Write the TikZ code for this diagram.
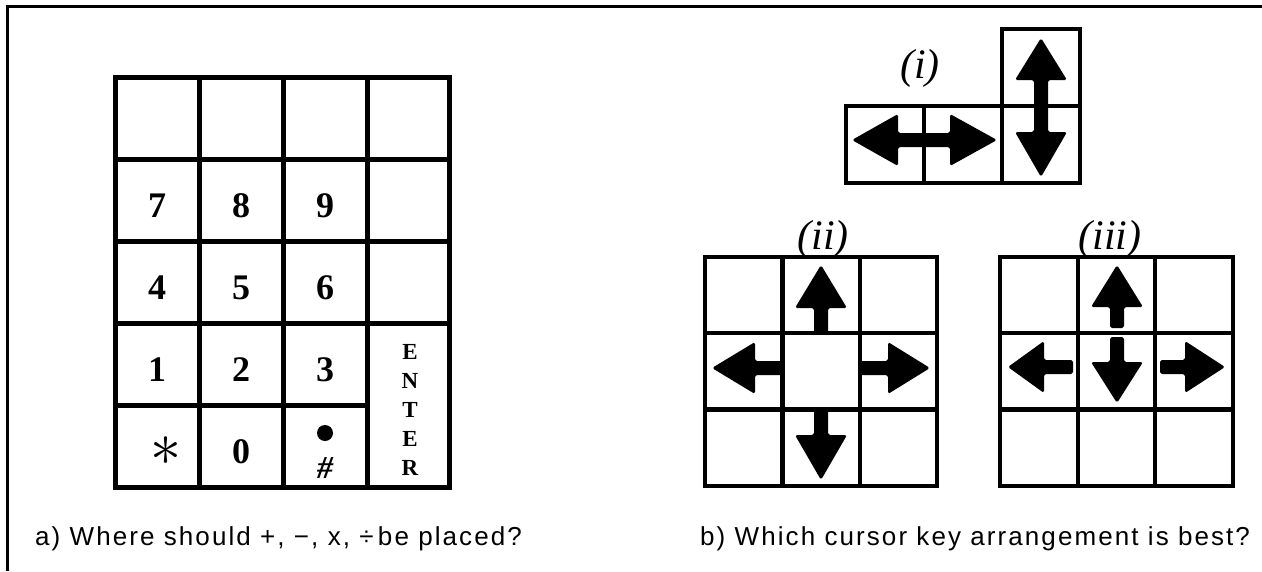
\documentclass[tikz,border=0pt]{standalone}
\usepackage{fontspec}
\setmainfont{Liberation Serif}
\setsansfont{Liberation Sans}[LetterSpace=8]
\begin{document}
\begin{tikzpicture}[x=1pt,y=-1pt,
  keycell/.style={draw,line width=5pt,minimum width=84pt,minimum height=82pt,inner sep=0pt},
  curcell/.style={draw,line width=4pt,minimum width=77.7pt,minimum height=76.7pt,inner sep=0pt},
  digit/.style={inner sep=0pt,font=\fontsize{36}{36}\bfseries\selectfont},
  setlabel/.style={inner sep=0pt,font=\fontsize{42}{42}\itshape\selectfont},
  caption/.style={inner sep=0pt,anchor=west,font=\fontsize{26}{30}\sffamily\selectfont},
  pics/keyarrow/.style 2 args={code={
    \fill[rounded corners=1.8pt] (0,0) -- (-#1,26) -- (-#1,7) -- (-#2,7)
      -- (-#2,-7) -- (-#1,-7) -- (-#1,-26) -- cycle;
  }}]
\useasboundingbox (0,0) rectangle (1262,571);
% frame
\draw[line width=3pt] (7,6.5) -- (1262,6.5);
\draw[line width=2.5pt] (7.5,5) -- (7.5,571);

% ---- keypad ----
\foreach \c/\x in {1/157,2/241,3/325}{
  \foreach \r/\y in {1/118,2/200,3/282,4/364,5/446}{
    \node[keycell] (k\r\c) at (\x,\y) {};
  }
}
\foreach \r/\y in {1/118,2/200,3/282}{
  \node[keycell,minimum width=82pt] (k\r4) at (408,\y) {};
}
\node[keycell,minimum width=82pt,minimum height=164pt] (kenter) at (408,405) {};

\node[digit] (d7) at (157,206) {7};
\node[digit] (d8) at (241,206) {8};
\node[digit] (d9) at (325,206) {9};
\node[digit] (d4) at (157,288) {4};
\node[digit] (d5) at (241,288) {5};
\node[digit] (d6) at (325,288) {6};
\node[digit] (d1) at (157,370) {1};
\node[digit] (d2) at (241,370) {2};
\node[digit] (d3) at (325,370) {3};
\node[digit] (d0) at (241,452) {0};
\node[inner sep=0pt] (dstar) at (166,451) {\scalebox{6.2}{$\ast$}};
\fill (325,433) circle (8);
\node[inner sep=0pt,font=\fontsize{32}{32}\bfseries\itshape\selectfont] (dhash) at (325,468) {\#};
\node[inner sep=0pt,align=center,font=\fontsize{23}{28.8}\bfseries\selectfont] (enter) at (410,410) {E\\N\\T\\E\\R};

% ---- cursor keys (i) ----
\node[curcell] (a1) at (885,144.3) {};
\node[curcell] (a2) at (963,144.3) {};
\node[curcell] (a3) at (1041,144.3) {};
\node[curcell] (a4) at (1041,67.6) {};
\pic[rotate=180] at (852,140) {keyarrow={46}{72}};
\pic at (997,140) {keyarrow={47}{73}};
\pic[rotate=90] at (1041,38) {keyarrow={42}{68}};
\pic[rotate=270] at (1041,177) {keyarrow={45}{71}};
\node[setlabel] (li) at (920,68) {(i)};

% ---- cursor keys (ii) ----
\foreach \c/\x in {1/744,2/821,3/898.5}{
  \foreach \r/\y in {1/295,2/371,3/448}{
    \node[curcell] (b\r\c) at (\x,\y) {};
  }
}
\pic[rotate=90] at (821,265) {keyarrow={43}{68}};
\pic[rotate=180] at (712,368) {keyarrow={43}{71}};
\pic at (930,368) {keyarrow={42}{71}};
\pic[rotate=270] at (821,480) {keyarrow={45}{71}};
\node[setlabel] (lii) at (823,239) {(ii)};

% ---- cursor keys (iii) ----
\foreach \c/\x in {1/1039,2/1116.5,3/1194}{
  \foreach \r/\y in {1/295,2/371,3/448}{
    \node[curcell] (c\r\c) at (\x,\y) {};
  }
}
\pic[rotate=90] at (1117,265) {keyarrow={42}{63}};
\pic[rotate=270] at (1117,403) {keyarrow={41}{66}};
\pic[rotate=180] at (1008,367) {keyarrow={36}{65}};
\pic at (1225,367) {keyarrow={40}{65}};
\node[setlabel] (liii) at (1110,239) {(iii)};

% ---- captions ----
\node[caption] (capa) at (35,539) {a) Where should +, −, x, ÷\,be placed?};
\node[caption] (capb) at (700,539) {b) Which cursor key arrangement is best?};
\end{tikzpicture}
\end{document}
